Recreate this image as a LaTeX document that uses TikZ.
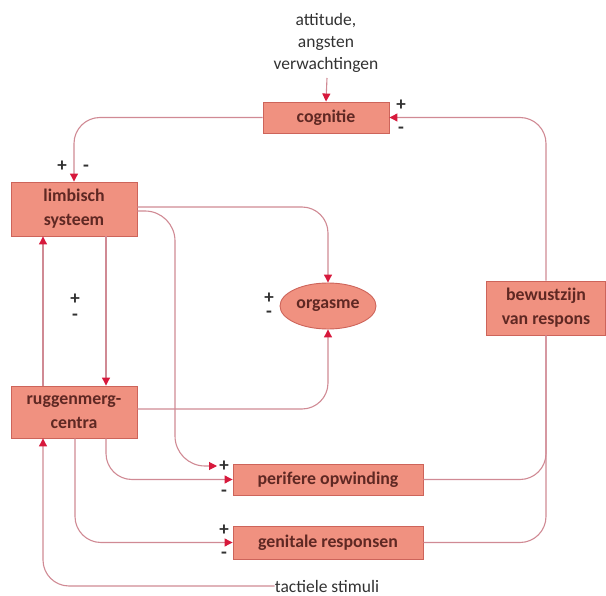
\documentclass[tikz,border=0pt]{standalone}
\usepackage{fontspec}
\setmainfont{Carlito}
\usetikzlibrary{arrows.meta,shapes.geometric,calc}
\definecolor{boxfill}{RGB}{240,145,128}
\definecolor{boxdraw}{RGB}{205,100,90}
\definecolor{linec}{RGB}{208,138,148}
\definecolor{tipc}{RGB}{215,25,60}
\definecolor{txt}{RGB}{95,40,35}
\definecolor{gtxt}{RGB}{50,50,50}
\begin{document}
\begin{tikzpicture}[x=1pt,y=-1pt,
  box/.style={draw=boxdraw, fill=boxfill, line width=0.9pt, text=txt,
    font=\fontsize{17.8}{24}\selectfont\bfseries, align=center, inner sep=0pt},
  conn/.style={draw=linec, line width=1.1pt, rounded corners=26pt,
    -{Triangle[length=8pt,width=8pt,color=tipc]}},
  plainline/.style={draw=linec, line width=1.1pt, rounded corners=26pt},
  sgn/.style={text=gtxt, font=\fontsize{19}{19}\selectfont\bfseries, inner sep=0pt,
    text height=11pt, text depth=-1pt},
  lab/.style={text=gtxt, font=\fontsize{17.5}{22}\selectfont, align=center, inner sep=0pt}
]
\useasboundingbox (0,0) rectangle (606,596);

% nodes
\node[box, minimum width=126pt, minimum height=31pt] (cog) at (326,117.5) {cognitie};
\node[box, minimum width=126pt, minimum height=54pt] (lim) at (74,209) {limbisch\\systeem};
\node[box, minimum width=126pt, minimum height=52pt] (rug) at (74,412) {ruggenmerg-\\centra};
\node[box, ellipse, minimum width=96pt, minimum height=46pt] (org) at (328,306) {orgasme};
\node[box, minimum width=119pt, minimum height=54pt] (bew) at (546,308) {bewustzijn\\van respons};
\node[box, minimum width=190pt, minimum height=31pt] (per) at (328,479.5) {perifere opwinding};
\node[box, minimum width=190pt, minimum height=33pt] (gen) at (328,542.5) {genitale responsen};

\node[lab] (att) at (326,43) {attitude,\\angsten\\verwachtingen};
\node[lab] (tact) at (327,586) {tactiele stimuli};

\coordinate (attend) at (327,78);
\coordinate (perplus) at (217,466);

% connectors
\draw[conn, rounded corners=0pt] (attend) -- (cog.north);
\draw[conn] (cog.west) -| (lim.north);
\draw[conn] (bew.north) |- (cog.east);
\draw[plainline] (per.east) -| (bew.south);
\draw[plainline] (gen.east) -| (bew.south);
\draw[conn] ($(lim.east)+(0,-2)$) -| (org.north);
\draw[conn, rounded corners=30pt] ($(lim.east)+(0,2)$) -| ($(perplus)+(-42,0)$) -- (perplus);
\draw[conn] ($(lim.south)+(32,0)$) -- ($(rug.north)+(32,0)$);
\draw[conn] ($(rug.north)+(-31,0)$) -- ($(lim.south)+(-31,0)$);
\draw[conn] ($(rug.east)+(0,-3)$) -| (org.south);
\draw[conn] ($(rug.south)+(32,0)$) |- (per.west);
\draw[conn] ($(rug.south)+(1,0)$) |- (gen.west);
\draw[conn] (tact.west) -| ($(rug.south)+(-31,0)$);

% signs
\node[sgn] (s1) at (401,105) {+};
\node[sgn] (s2) at (401,128) {-};
\node[sgn] (s3) at (62,166) {+};
\node[sgn] (s4) at (86,166) {-};
\node[sgn] (s5) at (75,299) {+};
\node[sgn] (s6) at (75,315) {-};
\node[sgn] (s7) at (269,298) {+};
\node[sgn] (s8) at (269,312) {-};
\node[sgn] (s9) at (224,466) {+};
\node[sgn] (s10) at (224,491) {-};
\node[sgn] (s11) at (224,530) {+};
\node[sgn] (s12) at (224,553) {-};
\end{tikzpicture}
\end{document}
